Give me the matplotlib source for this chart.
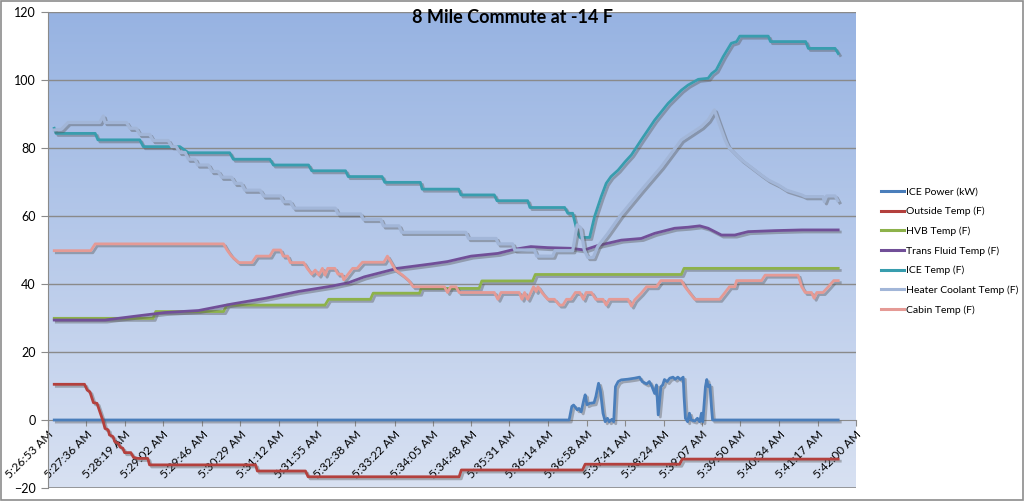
import numpy as np
import matplotlib
matplotlib.use("Agg")
import matplotlib.pyplot as plt
import matplotlib.patheffects as pe
from matplotlib.colors import LinearSegmentedColormap

plt.rcParams['font.family'] = ['Lato', 'DejaVu Sans']

# elapsed seconds from 5:26:53 AM, value
ice_power = [(7, 0), (585, 0), (588, 4), (590, 4.4), (594, 3), (596, 3.4), (598.5, 2.4), (601.5, 5.9),
             (603, 7.4), (605, 4.5), (608, 4.9), (613, 5.1), (615, 6.9), (618, 10.8), (620, 8.8), (623, 2),
             (625.5, -0.5), (628, 0.5), (630, -0.5), (633, 0.2), (635, -0.5), (637, 9.8), (640, 11.3),
             (643.5, 11.8), (651, 12), (658.5, 12.3), (664, 12.6), (667, 11.3), (672, 10.6), (675, 11.3),
             (678, 9.8), (681, 7.8), (683, 10.3), (685, 1.5), (688, 9.8), (690, 10.3), (692, 11.9),
             (695, 11.3), (698, 12.3), (701.6, 12.6), (704, 12), (707, 12.6), (710, 11.9), (713, 12.6),
             (714, 6.9), (715.5, 0.5), (718, -0.5), (720, 2), (722, 0), (726, -0.3), (729, 0.5),
             (731.6, -0.5), (733.5, 2), (735, -0.5), (738, 9.8), (739.5, 11.9), (741, 9.8), (743, 10.3),
             (745, 3), (746, 0), (887, 0)]

outside_temp = [(7, 10.5), (41, 10.5), (44, 8.8), (47, 8.3), (51, 5.1), (55, 4.9), (62, -0.5), (64, -2.5),
                (67.5, -2.9), (69, -4.4), (73, -4.9), (75, -6.4), (79, -6.9), (81, -8), (84, -8.3),
                (86, -9.6), (93, -9.6), (96, -11), (101, -11.3), (112, -11.3), (114, -13.2), (233, -13.2),
                (235, -15), (289, -15), (292, -16.7), (461.5, -16.7), (464, -14.7), (600, -14.7),
                (603, -13), (709, -13), (712, -11.5), (887, -11.5)]

hvb_temp = [(7, 29.9), (118, 29.9), (121, 31.9), (197, 31.9), (201, 33.8), (311, 33.8), (315, 35.5),
            (362, 35.5), (365, 37.3), (417, 37.3), (419, 38.7), (484, 38.7), (487, 40.9), (544, 40.9),
            (547, 42.8), (711, 42.8), (714, 44.6), (887, 44.6)]

trans_fluid = [(7, 29.4), (64, 29.4), (94, 30.4), (131, 31.6), (169, 32.2), (206, 34.1), (244, 35.8),
               (281, 37.8), (319, 39.4), (337.5, 40.4), (355, 42.1), (392, 44.6), (430, 45.9),
               (448.5, 46.6), (475, 48.2), (505, 49), (523.5, 50.2), (542, 51), (561, 50.7), (587, 50.5),
               (602, 50), (617, 51.3), (632, 52.2), (643.5, 52.9), (666, 53.4), (681, 54.9), (703.5, 56.4),
               (718.5, 56.7), (731.6, 57.1), (741, 56.4), (756, 54.4), (771, 54.4), (786, 55.4),
               (816, 55.7), (846, 55.9), (887, 55.9)]

ice_temp = [(7, 85.8), (9, 84.3), (53, 84.3), (56, 82.4), (103, 82.4), (107, 80.4), (148, 80.4),
            (157.5, 78.6), (204, 78.6), (208, 76.7), (249, 76.7), (253, 75), (292.5, 75), (296, 73.3),
            (334, 73.3), (337, 71.6), (375, 71.6), (378, 69.9), (418, 69.9), (420, 67.9), (461, 67.9),
            (463.5, 66.2), (501, 66.2), (504, 64.5), (538.5, 64.5), (541, 62.5), (580, 62.5),
            (583.5, 60.8), (589, 60.8), (594, 55.5), (597, 53.7), (608, 53.7), (613.5, 59.8),
            (621, 65.7), (626.6, 69.6), (632, 71.6), (640, 73.5), (648, 76), (655, 78), (666, 82.4),
            (681, 88.2), (696, 93.1), (711, 97), (718.5, 98.5), (730, 100.2), (741, 100.5), (745, 101.9),
            (750, 102.9), (758, 106.9), (767, 110.8), (773, 111.3), (776.6, 112.9), (808.5, 112.9),
            (811, 111.3), (850.5, 111.3), (853.5, 109.3), (883.5, 109.3), (887, 107.8)]

heater_coolant = [(7, 85.3), (15, 85.5), (22.5, 87.5), (58, 87.5), (62, 89.4), (64, 87.5), (88, 87.5),
                  (92, 85.8), (99, 85.8), (103, 84), (114, 84), (118, 82.2), (135, 82.2), (139, 80.4),
                  (144, 80.4), (148, 78.7), (154, 78.7), (157.5, 76.7), (165, 76.7), (168, 75), (180, 75),
                  (184, 73.1), (191, 73.1), (195, 71.4), (206, 71.4), (210, 69.6), (217, 69.6),
                  (221, 67.6), (238, 67.6), (242, 65.9), (261, 65.9), (264, 64.2), (272, 64.2),
                  (276, 62.3), (322.5, 62.3), (325.5, 60.6), (351, 60.6), (354, 59), (373.5, 59),
                  (376.5, 57.1), (394, 57.1), (397, 55.2), (469, 55.2), (472, 53.4), (503, 53.4),
                  (505.5, 51.8), (521.5, 51.8), (524, 50), (546, 50), (548.6, 48.2), (566.6, 48.2),
                  (569, 49.8), (589, 49.8), (594, 57.4), (598, 56.4), (602, 50), (606, 47.8), (612, 47.8),
                  (617, 51), (628.5, 54.9), (643, 60.3), (666, 67.6), (688.5, 74.5), (711, 82.4),
                  (733.5, 86.3), (741, 88.2), (748, 91.2), (752, 88.2), (760, 82.4), (763.5, 80.4),
                  (771, 78.4), (778.5, 76.5), (793.5, 73.5), (801, 72), (808.5, 70.6), (820, 69.1),
                  (829, 67.6), (846, 66.2), (850, 65.7), (870, 65.7), (871.5, 64.2), (874, 65.9),
                  (883.5, 65.9), (886.5, 64.5)]

cabin_temp = [(7, 49.8), (48, 49.8), (53, 51.8), (197, 51.8), (201, 50), (206, 48.2), (214, 46.3),
              (229, 46.3), (234, 48.2), (249, 48.2), (253, 50), (261, 50), (264, 48.2), (269, 48.2),
              (272, 46.3), (287, 46.3), (291, 44.6), (296, 42.9), (300, 44.1), (304, 42.6), (308, 44.6),
              (311, 42.6), (314, 44.6), (322, 44.6), (325.5, 42.9), (330, 42.9), (332, 41.2),
              (336, 42.6), (342, 44.6), (347, 44.6), (353, 46.4), (377, 46.4), (381, 48.2), (385, 46.4),
              (390, 44.1), (398, 42.6), (405, 41), (410, 39.2), (445, 39.2), (448.5, 37.5), (452, 39.2),
              (458, 39.2), (461.5, 37.5), (501, 37.5), (505, 35.5), (508.5, 37.5), (529, 37.5),
              (532, 35.5), (535, 37.5), (538.5, 35.5), (542, 37.5), (545, 39.2), (548, 37.8),
              (550, 39.2), (555, 37.3), (561, 35.5), (568.5, 35.5), (574, 33.8), (578, 33.8),
              (582, 35.5), (587, 35.5), (592, 37.5), (597, 37.5), (601, 35.5), (604, 37.5), (610, 37.5),
              (615, 35.5), (623, 35.5), (626.6, 33.8), (630, 35.5), (651, 35.5), (655, 33.5),
              (658.5, 35.3), (666, 37.3), (672, 39.2), (683, 39.2), (688, 41), (711, 41), (715, 39.2),
              (720, 37.5), (726, 35.5), (754, 35.5), (760, 37.5), (765, 39.2), (771, 39.2), (773, 41),
              (801, 41), (805, 42.6), (842, 42.6), (846, 39.2), (850, 37.5), (857, 37.5), (860, 35.8),
              (863, 37.5), (870, 37.5), (876, 39.2), (882, 41), (887, 41)]

tick_labels = ["5:26:53 AM", "5:27:36 AM", "5:28:19 AM", "5:29:02 AM", "5:29:46 AM", "5:30:29 AM",
               "5:31:12 AM", "5:31:55 AM", "5:32:38 AM", "5:33:22 AM", "5:34:05 AM", "5:34:48 AM",
               "5:35:31 AM", "5:36:14 AM", "5:36:58 AM", "5:37:41 AM", "5:38:24 AM", "5:39:07 AM",
               "5:39:50 AM", "5:40:34 AM", "5:41:17 AM", "5:42:00 AM"]

series = [
    ("ICE Power (kW)", ice_power, "#4A7EBB", 2.0),
    ("Outside Temp (F)", outside_temp, "#B3403D", 2.0),
    ("HVB Temp (F)", hvb_temp, "#8DB24A", 2.0),
    ("Trans Fluid Temp (F)", trans_fluid, "#714F98", 2.0),
    ("ICE Temp (F)", ice_temp, "#389DAE", 2.0),
    ("Heater Coolant Temp (F)", heater_coolant, "#A2B6D8", 2.3),
    ("Cabin Temp (F)", cabin_temp, "#E59A95", 2.0),
]


def to_sec(s):
    h, m, rest = s.split(":")
    sec = rest.split()[0]
    return int(h) * 3600 + int(m) * 60 + int(sec)


t0 = to_sec(tick_labels[0])
tick_pos = [to_sec(s) - t0 for s in tick_labels]

fig = plt.figure(figsize=(10.24, 5.01), dpi=100)
fig.patches.append(plt.Rectangle((0.001, 0.002), 0.998, 0.996, transform=fig.transFigure,
                                 fill=False, edgecolor="#8C8C8C", linewidth=1.2))
ax = fig.add_axes([48 / 1024, 1 - 488 / 501, 808 / 1024, 476 / 501])

# plot area gradient
grad = np.linspace(0, 1, 256).reshape(-1, 1)
cmap = LinearSegmentedColormap.from_list("bg", ["#97B3E2", "#D8E1F2"])
ax.imshow(grad, extent=[0, 1, 0, 1], transform=ax.transAxes, cmap=cmap, aspect="auto", zorder=0)

ax.set_xlim(tick_pos[0], tick_pos[-1])
ax.set_ylim(-20, 120)
ax.set_yticks(range(-20, 121, 20))
for y in range(20, 121, 20):
    ax.axhline(y, color="#8A8A8A", linewidth=1.0, zorder=1)

shadow = [pe.SimpleLineShadow(offset=(1.5, -1.5), shadow_color="#555555", alpha=0.4), pe.Normal()]
handles = []
for name, pts, color, lw in series:
    t = [p[0] for p in pts]
    v = [p[1] for p in pts]
    ax.plot(t, v, color=color, linewidth=lw, zorder=3, path_effects=shadow, solid_joinstyle="round")
    handles.append(plt.Line2D([], [], color=color, linewidth=2.2, label=name))

ax.spines['top'].set_visible(False)
ax.spines['right'].set_visible(False)
ax.spines['bottom'].set_position(('data', 0))
ax.spines['bottom'].set_color("#8A8A8A")
ax.spines['left'].set_color("#8A8A8A")
ax.axhline(-20, color="#8A8A8A", linewidth=1.2, zorder=1)

ax.set_xticks(tick_pos)
ax.set_xticklabels(tick_labels, rotation=45, ha="right", va="top", rotation_mode="anchor", fontsize=8.5)
ax.tick_params(axis="x", length=4, color="#8A8A8A", pad=2)
ax.tick_params(axis="y", length=5, color="#8A8A8A", labelsize=9, pad=4)

fig.text(513 / 1024, 1 - 9 / 501, "8 Mile Commute at -14 F", ha="center", va="top",
         fontsize=13, fontweight="bold")

fig.legend(handles=handles, loc="upper left", bbox_to_anchor=(872 / 1024, 1 - 178 / 501), frameon=False,
           fontsize=7.5, handlelength=2.2, labelspacing=0.97, handletextpad=0.15)

fig.savefig("out.png", dpi=100)
